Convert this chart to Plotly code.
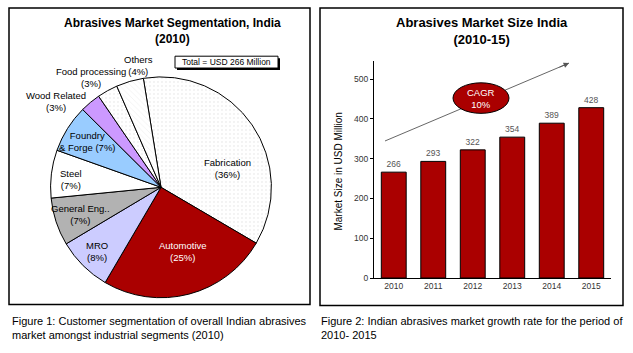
import plotly.graph_objects as go

W, H = 633, 353

# ---- data ----
seg_names = ["Fabrication", "Automotive", "MRO", "General Eng..", "Steel",
             "Foundry & Forge", "Wood Related", "Food processing", "Others"]
seg_pct = [36, 25, 8, 7, 7, 7, 3, 3, 4]
seg_label_fmt = ["Fabrication<br>({p}%)", "Automotive<br>({p}%)", "MRO<br>({p}%)",
                 "General Eng..<br>({p}%)", "Steel<br>({p}%)", "Foundry<br>& Forge ({p}%)",
                 "Wood Related<br>({p}%)", "Food processing<br>({p}%)", "Others<br>({p}%)"]
total_text = "Total = USD 266 Million"

years = ["2010", "2011", "2012", "2013", "2014", "2015"]
market_size = [266, 293, 322, 354, 389, 428]
cagr_text = "CAGR<br>10%"

caption1 = "Figure 1: Customer segmentation of overall Indian abrasives<br>market amongst industrial segments (2010)"
caption2 = "Figure 2: Indian abrasives market growth rate for the period of<br>2010- 2015"

# ---- styles ----
FONT = "Arial, Liberation Sans, sans-serif"
seg_colors = ["#F7F7F7", "#AA0000", "#CCCCFF", "#B2B2B2", "#FFFFFF",
              "#99CCFF", "#CC99FF", "#FBFBFB", "#F9F9F9"]
seg_patterns = [".", "", "", "", "", "", "", ".", "\\"]
seg_text_colors = ["#000", "#FFF", "#000", "#000", "#000", "#000", "#000", "#000", "#000"]
seg_label_pos = [(227, 171), (183, 255), (97, 255), (80, 218), (71, 182),
                 (87, 144), (56, 103), (91, 79), (138, 66)]


def px(x):
    return x / W


def py(y):
    return 1 - y / H


fig = go.Figure()

# pie
cx, cy, r = 161, 190, 112
fig.add_trace(go.Pie(
    labels=seg_names, values=seg_pct, sort=False, direction="clockwise",
    rotation=-9.2, textinfo="none", hoverinfo="label+percent",
    marker=dict(colors=seg_colors, line=dict(color="#000", width=1),
                pattern=dict(shape=seg_patterns, fgcolor="#E2E2E2", size=4, solidity=0.1)),
    domain=dict(x=[px(cx - r), px(cx + r)], y=[py(cy + r), py(cy - r)]),
    showlegend=False,
))

# bars
fig.add_trace(go.Bar(
    x=years, y=market_size, marker=dict(color="#AA0000", line=dict(color="#000", width=1)),
    text=market_size, textposition="outside", cliponaxis=False,
    textfont=dict(family=FONT, size=8.5, color="#555"), showlegend=False,
    xaxis="x", yaxis="y",
))

fig.update_layout(
    width=W, height=H, margin=dict(l=0, r=0, t=0, b=0),
    paper_bgcolor="white", plot_bgcolor="white",
    font=dict(family=FONT, color="#000"),
    bargap=0.37,
    xaxis=dict(domain=[px(374), px(611)], showline=True, linecolor="#000", linewidth=1,
               ticks="", tickfont=dict(size=8.5, color="#333"), showgrid=False, fixedrange=True),
    yaxis=dict(domain=[py(282), py(62)], range=[0, 545], showline=True, linecolor="#000",
               linewidth=1, ticks="outside", ticklen=3, tickcolor="#000",
               tickvals=[0, 100, 200, 300, 400, 500],
               tickfont=dict(size=8.5, color="#333"), showgrid=False, zeroline=False),
)

ann = []
shapes = []

# panels
shapes.append(dict(type="rect", xref="paper", yref="paper", x0=px(9), x1=px(310),
                   y0=py(309), y1=py(8), line=dict(color="#000", width=1.5)))
shapes.append(dict(type="rect", xref="paper", yref="paper", x0=px(320), x1=px(623),
                   y0=py(310), y1=py(8), line=dict(color="#000", width=1.5)))

# titles
ann.append(dict(text="<b>Abrasives Market Segmentation, India</b><br><b>(2010)</b>",
                x=px(172), y=py(31), xref="paper", yref="paper", showarrow=False,
                font=dict(size=12, family=FONT), xanchor="center", yanchor="middle"))
ann.append(dict(text="<b>Abrasives Market Size India</b><br><b>(2010-15)</b>",
                x=px(482), y=py(31), xref="paper", yref="paper", showarrow=False,
                font=dict(size=13, family=FONT), xanchor="center", yanchor="middle"))

# total box with shadow
shapes.append(dict(type="rect", xref="paper", yref="paper", x0=px(177), x1=px(280),
                   y0=py(71), y1=py(59), fillcolor="#000", line=dict(width=0)))
shapes.append(dict(type="rect", xref="paper", yref="paper", x0=px(175), x1=px(278),
                   y0=py(69), y1=py(57), fillcolor="#FFF", line=dict(color="#000", width=1)))
ann.append(dict(text=total_text, x=px(226.5), y=py(63), xref="paper", yref="paper",
                showarrow=False, font=dict(size=8.5, family=FONT), xanchor="center", yanchor="middle"))

# pie labels
for fmt, p, (lx, ly), c in zip(seg_label_fmt, seg_pct, seg_label_pos, seg_text_colors):
    ann.append(dict(text=fmt.format(p=p), x=px(lx), y=py(ly), xref="paper", yref="paper",
                    showarrow=False, font=dict(size=9.5, family=FONT, color=c),
                    xanchor="center", yanchor="middle"))

# y-axis title
ann.append(dict(text="Market Size in USD Million", x=px(339), y=py(174), xref="paper",
                yref="paper", showarrow=False, textangle=-90,
                font=dict(size=10, family=FONT, color="#000"), xanchor="center", yanchor="middle"))

# growth arrow: line (below ellipse) + arrowhead
ax0, ay0, ax1, ay1 = 385, 143, 569, 64
shapes.append(dict(type="line", xref="paper", yref="paper", x0=px(ax0), y0=py(ay0),
                   x1=px(ax1), y1=py(ay1), line=dict(color="#555", width=0.9)))
dx, dy = ax1 - ax0, ay1 - ay0
L = (dx * dx + dy * dy) ** 0.5
ann.append(dict(text="", x=px(ax1), y=py(ay1), ax=-dx / L * 12, ay=-dy / L * 12,
                xref="paper", yref="paper", axref="pixel", ayref="pixel", showarrow=True,
                arrowhead=2, arrowsize=1.2, arrowwidth=0.9, arrowcolor="#555"))

# CAGR ellipse
shapes.append(dict(type="circle", xref="paper", yref="paper", x0=px(453), x1=px(509),
                   y0=py(115), y1=py(84), fillcolor="#AA0000", line=dict(color="#000", width=1)))
ann.append(dict(text=cagr_text, x=px(481), y=py(100), xref="paper", yref="paper",
                showarrow=False, font=dict(size=9.5, family=FONT, color="#FFFFFF"),
                xanchor="center", yanchor="middle"))

# captions
ann.append(dict(text=caption1, x=px(10), y=py(333), xref="paper", yref="paper", showarrow=False,
                align="left", xanchor="left", yanchor="middle", font=dict(size=11, family=FONT)))
ann.append(dict(text=caption2, x=px(319), y=py(333), xref="paper", yref="paper", showarrow=False,
                align="left", xanchor="left", yanchor="middle", font=dict(size=11, family=FONT)))

fig.update_layout(annotations=ann, shapes=shapes)
fig.write_html("out.html")
